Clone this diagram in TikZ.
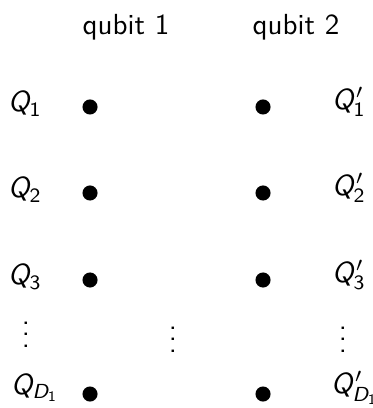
\documentclass[tikz,border=0pt]{standalone}
\renewcommand{\familydefault}{\sfdefault}
\DeclareMathAlphabet{\mathsl}{OT1}{cmss}{m}{sl}
\newcommand{\qlab}[1]{\mathsl{Q}_{#1}}
\tikzset{qdot/.style={circle, fill=black, inner sep=0pt, minimum size=5.2pt}}
\begin{document}
\begin{tikzpicture}[x=0.0121cm, y=-0.0121cm]
            \useasboundingbox (0,0) rectangle (372,408);
            \node (head1) at (126,27) {qubit 1};
            \node (head2) at (296,27) {qubit 2};
            \node[qdot] (a1) at (90,107) {};
            \node[qdot] (a2) at (90,193) {};
            \node[qdot] (a3) at (90,280) {};
            \node[qdot] (aD) at (90,394) {};
            \node[qdot] (b1) at (263,107) {};
            \node[qdot] (b2) at (263,193) {};
            \node[qdot] (b3) at (263,280) {};
            \node[qdot] (bD) at (263,394) {};
            \node (q1) at (25,104) {$\qlab{\mathsf{1}}$};
            \node (q2) at (25,190) {$\qlab{\mathsf{2}}$};
            \node (q3) at (25,277) {$\qlab{\mathsf{3}}$};
            \node (qdots) at (26,326) {$\vdots$};
            \node (qD) at (35,388) {$\qlab{\mathsl{D}_{\mathsf{1}}}$};
            \node (mdots) at (173,331) {$\vdots$};
            \node (p1) at (349,102) {$\mathsl{Q}'_{\mathsf{1}}$};
            \node (p2) at (349,188) {$\mathsl{Q}'_{\mathsf{2}}$};
            \node (p3) at (349,275) {$\mathsl{Q}'_{\mathsf{3}}$};
            \node (pdots) at (343,331) {$\vdots$};
            \node (pD) at (355,388) {$\mathsl{Q}'_{\mathsl{D}_{\mathsf{1}}}$};
        \end{tikzpicture}
\end{document}
